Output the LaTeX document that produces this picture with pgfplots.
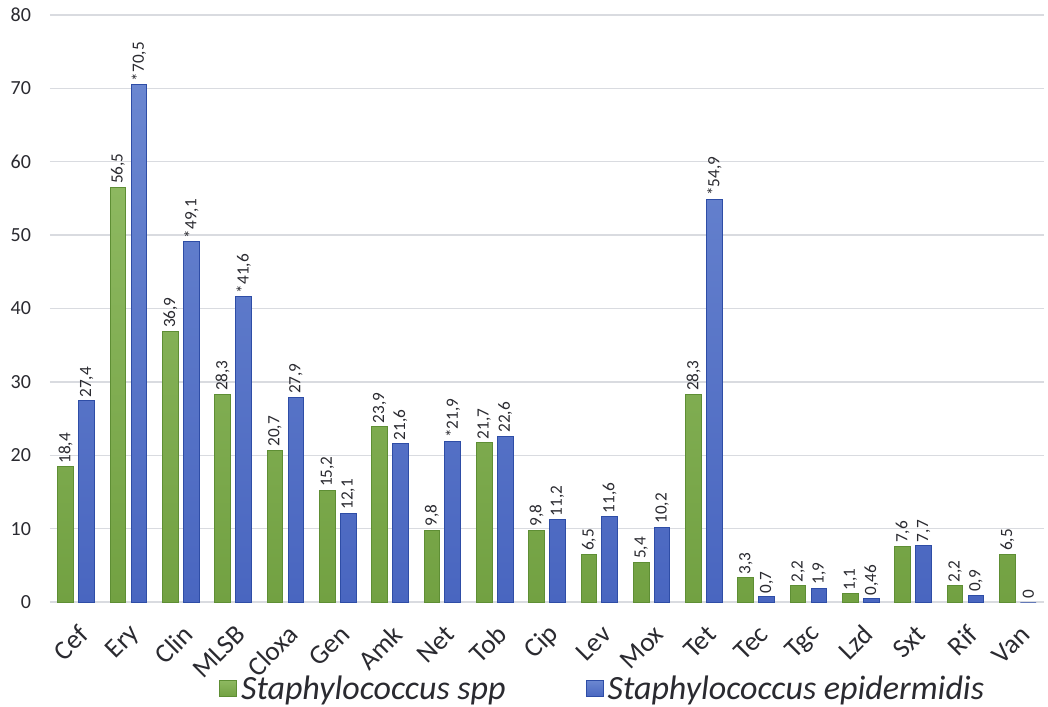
\documentclass[border=0pt]{standalone}
\usepackage{pgfplots}
\pgfplotsset{compat=1.18}
\usepackage{pgfplotstable}
\usepackage{fontspec}
\setmainfont{Carlito}
\definecolor{gtop}{HTML}{8DB860}
\definecolor{gbot}{HTML}{72A142}
\definecolor{gdraw}{HTML}{5E8E34}
\definecolor{btop}{HTML}{6A86D0}
\definecolor{bbot}{HTML}{4966C0}
\definecolor{bdraw}{HTML}{2E4DA6}
\definecolor{gridc}{HTML}{D9DBE0}
\definecolor{txt}{HTML}{2A2A30}
\pgfplotstableread{
x y lab
0 18.4 18,4
1 56.5 56,5
2 36.9 36,9
3 28.3 28,3
4 20.7 20,7
5 15.2 15,2
6 23.9 23,9
7 9.8 9,8
8 21.7 21,7
9 9.8 9,8
10 6.5 6,5
11 5.4 5,4
12 28.3 28,3
13 3.3 3,3
14 2.2 2,2
15 1.1 1,1
16 7.6 7,6
17 2.2 2,2
18 6.5 6,5
}\spp
\pgfplotstableread{
x y lab
0 27.4 27,4
1 70.5 *70,5
2 49.1 *49,1
3 41.6 *41,6
4 27.9 27,9
5 12.1 12,1
6 21.6 21,6
7 21.9 *21,9
8 22.6 22,6
9 11.2 11,2
10 11.6 11,6
11 10.2 10,2
12 54.9 *54,9
13 0.7 0,7
14 1.9 1,9
15 0.46 0,46
16 7.7 7,7
17 0.9 0,9
18 0 0
}\epi
\begin{document}
\begin{tikzpicture}
\begin{axis}[
  scale only axis,
  width=497pt, height=293.5pt,
  xmin=-0.5, xmax=18.5,
  ymin=0, ymax=80,
  ytick={0,10,...,80},
  xtick=data,
  xticklabels={Cef,Ery,Clin,MLSB,Cloxa,Gen,Amk,Net,Tob,Cip,Lev,Mox,Tet,Tec,Tgc,Lzd,Sxt,Rif,Van},
  ybar, bar width=0.3,
  ymajorgrids, grid style={gridc, line width=0.7pt},
  axis x line*=bottom, axis y line*=left,
  y axis line style={draw=none},
  x axis line style={gridc, line width=0.7pt, -},
  major tick length=0pt,
  tick style={draw=none},
  /pgf/number format/assume math mode=true,
  yticklabel style={font=\fontsize{10}{12}\selectfont, text=txt, xshift=-6pt},
  xticklabel style={font=\fontsize{13.5}{15}\selectfont, text=txt, rotate=45, anchor=east, yshift=-12.6pt, xshift=-3.8pt},
  point meta=explicit symbolic,
  nodes near coords,
  nodes near coords style={font=\fontsize{8.6}{10}\selectfont, text=txt, rotate=90, anchor=west, inner sep=1.5pt},
  legend style={at={(axis description cs:0.557,-0.148)}, anchor=center, draw=none, fill=none, legend columns=2,
    font=\itshape\fontsize{17}{19}\selectfont, text=txt,
    /tikz/every even column/.append style={column sep=38pt}},
  legend image code/.code={\draw[#1] (0pt,-4pt) rectangle (8.5pt,4pt);},
  clip=false,
]
\addplot[top color=gtop, bottom color=gbot, draw=gdraw, line width=0.5pt, bar shift=-0.2] table[x=x, y=y, meta=lab] {\spp};
\addplot[top color=btop, bottom color=bbot, draw=bdraw, line width=0.5pt, bar shift=0.2] table[x=x, y=y, meta=lab] {\epi};
\legend{Staphylococcus spp, Staphylococcus epidermidis}
\end{axis}
\pgfresetboundingbox
\path (-25pt,-52pt) rectangle (499pt,301pt);
\end{tikzpicture}
\end{document}
